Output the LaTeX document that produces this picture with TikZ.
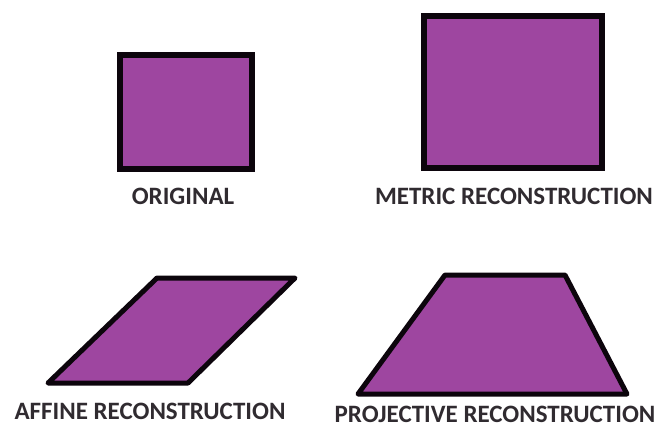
\documentclass[tikz,border=0pt]{standalone}
\usepackage{fontspec}
\setmainfont{Carlito}
\usetikzlibrary{positioning}
\definecolor{plum}{RGB}{158,70,160}
\definecolor{ink}{RGB}{12,5,12}
\tikzset{
  fig/.style={draw=ink,fill=plum,line width=#1},
  fig/.default=6,
  lbl/.style={font=\fontsize{25}{28}\selectfont\bfseries,text=ink!85,inner sep=0pt},
}
\begin{document}
\begin{tikzpicture}[x=1pt,y=-1pt]
  \useasboundingbox (0,0) rectangle (659,431);
  % original and metric
  \draw[fig] (120,55) rectangle (252,169);
  \draw[fig] (424,16) rectangle (602,168);
  \node[lbl] (orig) at (183,196) {ORIGINAL};
  \node[lbl] (metr) at (514,196) {METRIC RECONSTRUCTION};
  % affine and projective
  \draw[fig=5,line join=round] (157,278) -- (295,278) -- (188,383) -- (48,383) -- cycle;
  \draw[fig=5,line join=round] (445,275) -- (565,275) -- (627,394) -- (358,394) -- cycle;
  \node[lbl] (aff) at (150,411) {AFFINE RECONSTRUCTION};
  \node[lbl] (proj) at (495,414) {PROJECTIVE RECONSTRUCTION};
\end{tikzpicture}
\end{document}
